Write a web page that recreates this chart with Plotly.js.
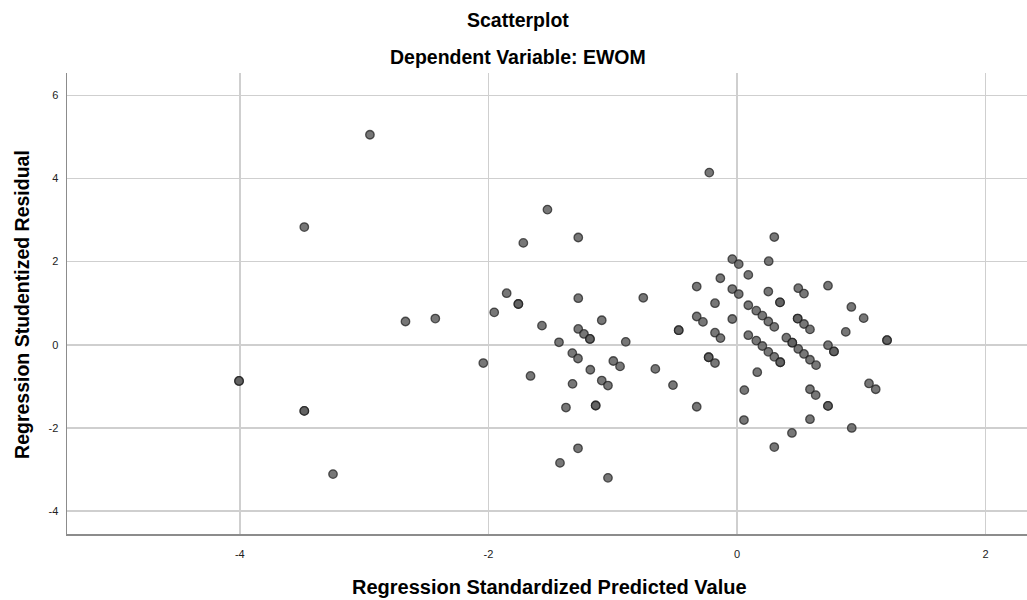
<!DOCTYPE html>
<html>
<head>
<meta charset="utf-8">
<script src="https://cdn.plot.ly/plotly-3.0.1.min.js"></script>
<style>html,body{margin:0;padding:0;background:#fff;}#chart{width:1027px;height:600px;}</style>
</head>
<body>
<div id="chart"></div>
<script>
// Regression Standardized Predicted Value
const predicted = [
 -2.953,-3.481,-2.667,-2.427,-4.006,-4.006,-3.481,-3.481,-3.250,
 -0.223,-1.525,-1.719,-1.277,-0.038,0.014,0.091,-0.134,-0.324,
 -1.853,-1.759,-1.759,-1.953,-1.277,-0.754,-0.038,0.014,0.091,-0.177,
 -0.324,-0.274,-0.038,-1.569,-1.088,-1.277,-1.231,-1.183,-1.183,
 -0.469,-0.469,-0.177,-0.133,0.091,-1.432,-0.895,-2.041,-1.325,-1.279,
 -0.995,-0.941,-1.180,-0.657,-0.228,-0.228,-0.177,-1.661,-1.323,-1.088,
 -1.038,-0.515,0.059,-1.376,-1.137,-1.137,-0.324,0.056,-1.279,-1.424,-1.038,
 0.300,0.255,0.252,0.493,0.539,0.732,0.346,0.346,0.155,0.204,0.252,0.300,
 0.488,0.488,0.539,0.587,0.920,1.019,0.155,0.204,0.252,0.300,0.348,0.348,
 0.397,0.445,0.445,0.493,0.539,0.587,0.636,0.732,0.780,0.780,0.875,1.207,1.207,
 0.163,0.587,0.633,0.732,0.732,0.587,1.062,1.116,0.923,0.442,0.300
];
// Regression Studentized Residual
const residual = [
 5.05,2.83,0.56,0.63,-0.87,-0.87,-1.59,-1.59,-3.11,
 4.14,3.25,2.45,2.58,2.06,1.94,1.68,1.60,1.40,
 1.24,0.98,0.98,0.78,1.12,1.13,1.34,1.22,0.95,1.00,
 0.68,0.55,0.62,0.46,0.59,0.38,0.26,0.14,0.14,
 0.35,0.35,0.29,0.16,0.23,0.06,0.07,-0.44,-0.20,-0.33,
 -0.39,-0.52,-0.60,-0.58,-0.30,-0.30,-0.44,-0.75,-0.94,-0.86,
 -0.98,-0.97,-1.09,-1.51,-1.46,-1.46,-1.49,-1.81,-2.49,-2.84,-3.20,
 2.59,2.01,1.28,1.36,1.23,1.42,1.02,1.02,0.82,0.70,0.56,0.43,
 0.63,0.63,0.50,0.37,0.91,0.64,0.10,-0.03,-0.17,-0.29,-0.42,-0.42,
 0.17,0.05,0.05,-0.10,-0.22,-0.36,-0.49,-0.01,-0.16,-0.16,0.31,0.11,0.11,
 -0.66,-1.07,-1.21,-1.47,-1.47,-1.79,-0.93,-1.07,-2.00,-2.12,-2.46
];
const xTicks = [-4,-2,0,2];
const yTicks = [-4,-2,0,2,4,6];
const titleText = "Scatterplot";
const subtitleText = "Dependent Variable: EWOM";
const xTitle = "Regression Standardized Predicted Value";
const yTitle = "Regression Studentized Residual";

const FONT = "Liberation Sans, Arial, sans-serif";

const trace = {
  type: "scatter",
  mode: "markers",
  x: predicted,
  y: residual,
  marker: {
    size: 8.5,
    color: "rgba(95,95,95,0.85)",
    line: {color: "rgba(25,25,25,0.7)", width: 1.3}
  },
  hoverinfo: "x+y"
};

const layout = {
  width: 1027,
  height: 600,
  margin: {l: 67, r: 0, t: 73, b: 66, pad: 0},
  paper_bgcolor: "#ffffff",
  plot_bgcolor: "#ffffff",
  showlegend: false,
  font: {family: FONT, color: "#222", size: 11},
  xaxis: {
    range: [-5.39, 2.333],
    tickvals: xTicks,
    ticktext: xTicks.map(String),
    showgrid: true,
    gridcolor: "#cfcfcf",
    gridwidth: 1.5,
    zeroline: false,
    showline: true,
    linecolor: "#8c8c8c",
    linewidth: 1.5,
    mirror: false,
    ticks: "",
    ticklabelstandoff: 9,
    tickfont: {family: FONT, size: 11, color: "#222"}
  },
  yaxis: {
    range: [-4.55, 6.535],
    tickvals: yTicks,
    ticktext: yTicks.map(String),
    showgrid: true,
    gridcolor: "#cfcfcf",
    gridwidth: 1.5,
    zeroline: false,
    showline: true,
    linecolor: "#8c8c8c",
    linewidth: 1.5,
    mirror: false,
    ticks: "",
    ticklabelstandoff: 5,
    tickfont: {family: FONT, size: 11, color: "#222"}
  },
  annotations: [
    {text: "<b>" + titleText + "</b>", xref: "paper", yref: "paper", x: 0.4698, y: 1.115,
     xanchor: "center", yanchor: "middle", showarrow: false, font: {family: FONT, size: 19.5, color: "#000"}},
    {text: "<b>" + subtitleText + "</b>", xref: "paper", yref: "paper", x: 0.4698, y: 1.0347,
     xanchor: "center", yanchor: "middle", showarrow: false, font: {family: FONT, size: 19.5, color: "#000"}},
    {text: "<b>" + xTitle + "</b>", xref: "paper", yref: "paper", x: 0.503, y: -0.114,
     xanchor: "center", yanchor: "middle", showarrow: false, font: {family: FONT, size: 20, color: "#000"}},
    {text: "<b>" + yTitle + "</b>", xref: "paper", yref: "paper", x: -0.0469, y: 0.499,
     xanchor: "center", yanchor: "middle", textangle: -90, showarrow: false, font: {family: FONT, size: 19.5, color: "#000"}}
  ]
};

Plotly.newPlot("chart", [trace], layout, {displayModeBar: false, staticPlot: true});
</script>
</body>
</html>
